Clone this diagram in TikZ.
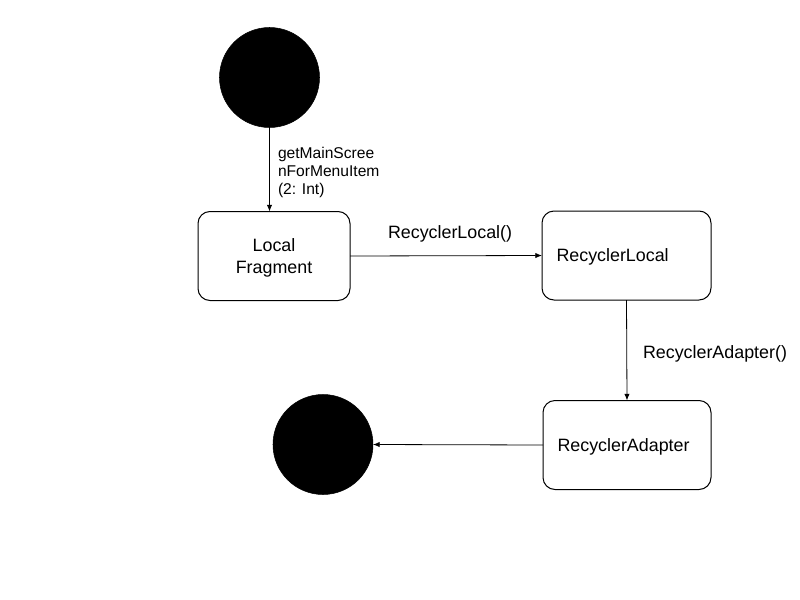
\documentclass[tikz,border=0pt]{standalone}
\usepackage{fontspec}
\setmainfont{Liberation Sans}
\usetikzlibrary{arrows.meta}
\begin{document}
\begin{tikzpicture}[x=0.75pt,y=-0.75pt,
  every node/.style={inner sep=0pt, outer sep=0pt},
  dot/.style={circle, fill=black, draw=black, minimum size=75pt},
  rbox/.style={draw=black, line width=0.75pt, rounded corners=9pt, minimum height=66.75pt, text depth=0pt},
  lbl/.style={font=\fontsize{13.4pt}{16.5pt}\selectfont},
  small/.style={font=\fontsize{11.7pt}{13.2pt}\selectfont},
  conn/.style={draw=black, line width=0.6pt, -{Latex[length=5pt,width=4pt]}}]
\useasboundingbox (0,0) rectangle (800,600);
\node[dot] (start) at (269.5,77.5) {};
\node[dot] (stop) at (323,444.5) {};
\node[rbox, lbl, minimum width=114pt, align=center] (lf) at (274,256) {Local\\Fragment};
\node[rbox, lbl, minimum width=126.75pt, text width=105pt, inner xsep=10.5pt, align=left] (rl) at (626.5,255.5) {RecyclerLocal};
\node[rbox, lbl, minimum width=126pt, text width=104.25pt, inner xsep=10.5pt, align=left] (ra) at (627,445) {RecyclerAdapter};
\node[lbl, anchor=base west] (l1) at (388,238) {RecyclerLocal()};
\node[lbl, anchor=base west] (l2) at (643,358) {RecyclerAdapter()};
\node[small, anchor=base west] (l3a) at (278,158) {getMainScree};
\node[small, anchor=base west] (l3b) at (278,176) {nForMenuItem};
\node[small, anchor=base west] (l3c) at (278,194) {(2: Int)};
\draw[conn] (start.south) -- (start.south |- lf.north);
\draw[conn] (lf.east) -- (rl.west);
\draw[conn] (rl.south) -- (ra.north);
\draw[conn] (ra.west) -- (stop.east);
\end{tikzpicture}
\end{document}
